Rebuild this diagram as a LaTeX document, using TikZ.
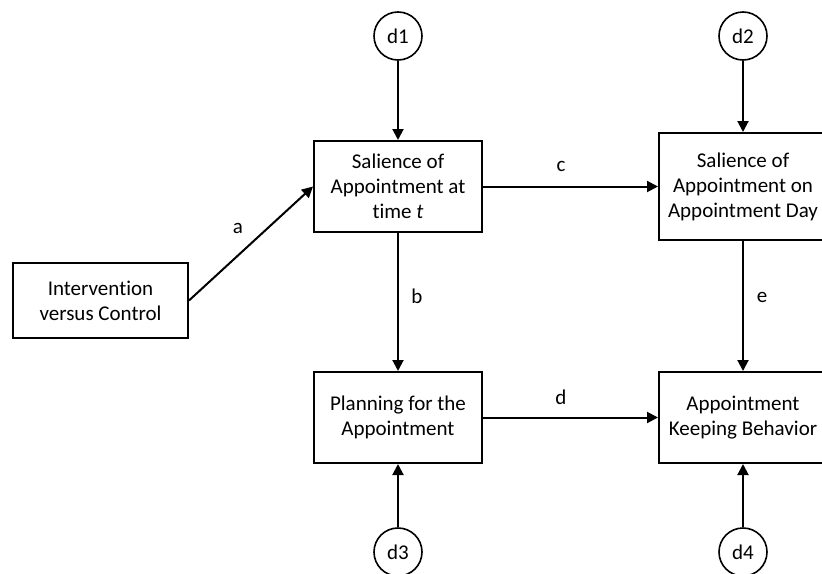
\documentclass[tikz,border=0pt]{standalone}
\usepackage{fontspec}
\setmainfont[RawFeature=-liga]{Carlito}
\usetikzlibrary{arrows.meta}
\begin{document}
\begin{tikzpicture}[x=1pt,y=-1pt,
  every node/.style={font=\fontsize{21}{25}\selectfont},
  box/.style={draw,line width=2pt,align=center,inner sep=0pt,minimum width=168pt,minimum height=91pt},
  disturb/.style={draw,circle,line width=1.6pt,minimum size=48pt,inner sep=0pt},
  path/.style={line width=2pt,-{Triangle[length=11pt,width=11pt]}},
  lbl/.style={inner sep=0pt}]
  \clip (0,0) rectangle (822,573);
  \useasboundingbox (0,0) rectangle (822,573);

  % latent disturbance terms
  \node[disturb] (d1) at (398,36) {d1};
  \node[disturb] (d2) at (743,36) {d2};
  \node[disturb] (d3) at (398,552) {d3};
  \node[disturb] (d4) at (743,552) {d4};

  % constructs of the path model
  \node[box,minimum width=175pt,minimum height=75pt] (iv) at (100.5,300.5) {Intervention\\versus Control};
  \node[box] (sal) at (398,186.5) {Salience of\\Appointment at\\time \textit{t}};
  \node[box,minimum height=107pt] (salday) at (743,186.5) {Salience of\\Appointment on\\Appointment Day};
  \node[box] (plan) at (398,417.5) {Planning for the\\Appointment};
  \node[box] (keep) at (743,417.5) {Appointment\\Keeping Behavior};

  % structural paths
  \draw[path] (iv.east) -- (sal.west);
  \draw[path] (sal.east) -- (salday.west);
  \draw[path] (sal.south) -- (plan.north);
  \draw[path] (salday.south) -- (keep.north);
  \draw[path] (plan.east) -- (keep.west);

  % disturbance paths
  \draw[path] (d1) -- (sal.north);
  \draw[path] (d2) -- (salday.north);
  \draw[path] (d3) -- (plan.south);
  \draw[path] (d4) -- (keep.south);

  % path labels
  \node[lbl] (la) at (238,228) {a};
  \node[lbl] (lb) at (417,296) {b};
  \node[lbl] (lc) at (561,166) {c};
  \node[lbl] (ld) at (561,397) {d};
  \node[lbl] (le) at (762,297) {e};
\end{tikzpicture}
\end{document}
